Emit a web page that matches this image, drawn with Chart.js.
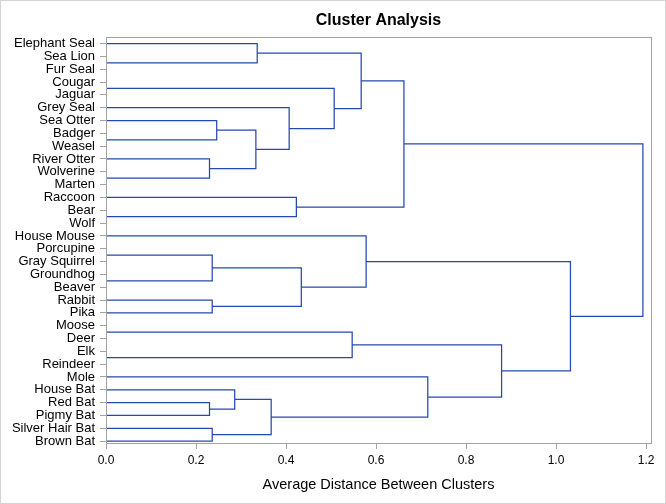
<!DOCTYPE html>
<html>
<head>
<meta charset="utf-8">
<script src="https://cdn.jsdelivr.net/npm/chart.js@4.4.1/dist/chart.umd.min.js"></script>
<style>
  html, body { margin: 0; padding: 0; background: #fff; }
  #wrap { width: 666px; height: 504px; box-sizing: border-box; border: 1px solid #d4d4d4; }
  canvas { display: block; }
</style>
</head>
<body>
<div id="wrap"><canvas id="chart" width="664" height="502"></canvas></div>
<script>
/* ---------- data ---------- */
const leaves = [
  'Elephant Seal', 'Sea Lion', 'Fur Seal', 'Cougar', 'Jaguar', 'Grey Seal',
  'Sea Otter', 'Badger', 'Weasel', 'River Otter', 'Wolverine', 'Marten',
  'Raccoon', 'Bear', 'Wolf', 'House Mouse', 'Porcupine', 'Gray Squirrel',
  'Groundhog', 'Beaver', 'Rabbit', 'Pika', 'Moose', 'Deer', 'Elk', 'Reindeer',
  'Mole', 'House Bat', 'Red Bat', 'Pigmy Bat', 'Silver Hair Bat', 'Brown Bat'
];

// joins in order, the n-th join makes cluster CLn
const joinLeft = [
  'Sea Lion', 'Cougar', 'Badger', 'Wolverine', 'Bear', 'Porcupine', 'Groundhog',
  'Moose', 'Elk', 'River Otter', 'Red Bat', 'CL6', 'Rabbit', 'Silver Hair Bat',
  'Sea Otter', 'House Bat', 'CL15', 'Elephant Seal', 'CL16', 'Grey Seal',
  'Raccoon', 'CL12', 'CL2', 'CL8', 'CL18', 'House Mouse', 'CL25', 'Mole',
  'CL24', 'CL26', 'CL27'
];
const joinRight = [
  'Fur Seal', 'Jaguar', 'Weasel', 'Marten', 'Wolf', 'Gray Squirrel', 'Beaver',
  'Deer', 'Reindeer', 'CL4', 'Pigmy Bat', 'CL7', 'Pika', 'Brown Bat',
  'CL3', 'CL11', 'CL10', 'CL1', 'CL14', 'CL17',
  'CL5', 'CL13', 'CL20', 'CL9', 'CL23', 'CL22', 'CL21', 'CL19',
  'CL28', 'CL29', 'CL30'
];
const joinDist = [
  0, 0, 0, 0, 0, 0, 0,
  0, 0, 0.230, 0.230, 0.236, 0.236, 0.236,
  0.246, 0.286, 0.333, 0.336, 0.367, 0.407,
  0.423, 0.434, 0.507, 0.547, 0.567, 0.578, 0.662, 0.715,
  0.879, 1.032, 1.193
];

const xTickValues = [0, 0.2, 0.4, 0.6, 0.8, 1.0, 1.2];

/* ---------- build the tree path ---------- */
const rowOf = {};
const distOf = {};
leaves.forEach((name, i) => { rowOf[name] = i; distOf[name] = 0; });

const path = [];
joinDist.forEach((d, i) => {
  const a = joinLeft[i];
  const b = joinRight[i];
  path.push(
    { x: distOf[a], y: rowOf[a] },
    { x: d, y: rowOf[a] },
    { x: d, y: rowOf[b] },
    { x: distOf[b], y: rowOf[b] },
    { x: null, y: null }
  );
  const id = 'CL' + (i + 1);
  rowOf[id] = (rowOf[a] + rowOf[b]) / 2;
  distOf[id] = d;
});

/* ---------- chart ---------- */
Chart.defaults.font.family = "'Liberation Sans', Arial, sans-serif";
Chart.defaults.color = '#000';

const AXIS_GRAY = '#a3a3a3';

// plot frame, drawn over the lines so the zero-height joins sit under the axis
const framePlugin = {
  id: 'frame',
  afterDatasetsDraw(chart) {
    const { ctx, chartArea: a } = chart;
    ctx.save();
    ctx.strokeStyle = AXIS_GRAY;
    ctx.lineWidth = 1;
    ctx.strokeRect(Math.round(a.left) + 0.5, Math.round(a.top) + 0.5,
      Math.round(a.right - a.left), Math.round(a.bottom - a.top));
    ctx.restore();
  }
};

new Chart(document.getElementById('chart'), {
  type: 'scatter',
  data: {
    datasets: [{
      data: path,
      showLine: true,
      spanGaps: false,
      borderColor: '#2549b0',
      borderWidth: 1.25,
      pointRadius: 0,
      pointHoverRadius: 0,
      borderJoinStyle: 'miter'
    }]
  },
  options: {
    responsive: false,
    animation: false,
    layout: { padding: { left: 0, right: 14, top: 0, bottom: 0 } },
    plugins: {
      legend: { display: false },
      tooltip: { enabled: false },
      title: {
        display: true,
        fullSize: false,
        text: 'Cluster Analysis',
        color: '#000',
        font: { size: 16, weight: 'bold' },
        padding: { top: 10, bottom: 6.8 }
      }
    },
    scales: {
      x: {
        type: 'linear',
        min: 0,
        max: 1.211,
        afterBuildTicks: s => { s.ticks = xTickValues.map(v => ({ value: v })); },
        afterFit: s => { s.height = 60; },
        ticks: {
          callback: v => v.toFixed(1),
          font: { size: 12 },
          padding: 4,
          maxRotation: 0
        },
        grid: { drawOnChartArea: false, tickLength: 6, color: AXIS_GRAY },
        border: { color: AXIS_GRAY },
        title: {
          display: true,
          text: 'Average Distance Between Clusters',
          font: { size: 14.5 },
          padding: { top: 0, bottom: 9.5 }
        }
      },
      y: {
        type: 'linear',
        reverse: true,
        min: -0.515,
        max: 31.15,
        afterBuildTicks: s => { s.ticks = leaves.map((_, i) => ({ value: i })); },
        afterFit: s => { s.width = 105; },
        ticks: {
          callback: v => leaves[v],
          font: { size: 13 },
          padding: 5,
          autoSkip: false
        },
        grid: { drawOnChartArea: false, tickLength: 6, color: AXIS_GRAY },
        border: { color: AXIS_GRAY }
      }
    }
  },
  plugins: [framePlugin]
});
</script>
</body>
</html>
